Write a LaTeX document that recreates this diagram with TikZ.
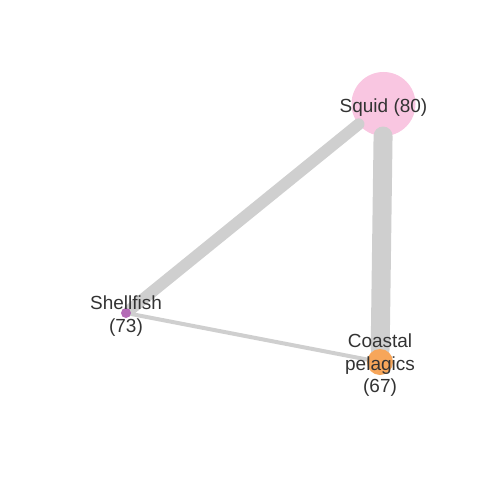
\documentclass[tikz,border=0pt]{standalone}
\usepackage{fontspec}
\setmainfont{Liberation Sans}
\usepackage{xcolor}
\usepackage{tikz}
\usetikzlibrary{
  arrows.meta,
  positioning,
  backgrounds
}
\definecolor{squidpink}{HTML}{F9C6E1}
\definecolor{shellpurple}{HTML}{B46CB6}
\definecolor{coastorange}{HTML}{F7A65A}
\definecolor{edgegray}{HTML}{CFCFCF}
\definecolor{txtgray}{HTML}{333333}

\begin{document}
\begin{tikzpicture}[
  x=0.025cm, y=-0.025cm,
  vertex/.style={circle, inner sep=0pt, outer sep=0pt},
  link/.style={draw=edgegray, line cap=round},
  lbl/.style={font=\fontsize{13.5}{16}\selectfont, text=txtgray, align=center,
              yshift=-2.2pt},
]
  \useasboundingbox (0,0) rectangle (480,480);

  % Nodes
  \node[vertex, fill=shellpurple, minimum size=0.25cm] (sh) at (126,313) {};
  \node[vertex, fill=coastorange, minimum size=0.65cm] (co) at (380,362) {};

  % Squid and links behind the smaller nodes
  \begin{pgfonlayer}{background}
    \node[vertex, fill=squidpink, minimum size=1.6cm] (sq) at (383.5,104) {};
    \draw[link, line width=13.5pt] (sq) -- (co);
    \draw[link, line width=8.3pt] (sq) -- (sh);
    \draw[link, line width=2.85pt] (sh) -- (co);
  \end{pgfonlayer}

  % Labels
  \node[lbl] (sqlbl) at (sq) {Squid (80)};
  \node[lbl] (shlbl) at (sh) {Shellfish\\(73)};
  \node[lbl] (colbl) at (co) {Coastal\\pelagics\\(67)};
\end{tikzpicture}
\end{document}
